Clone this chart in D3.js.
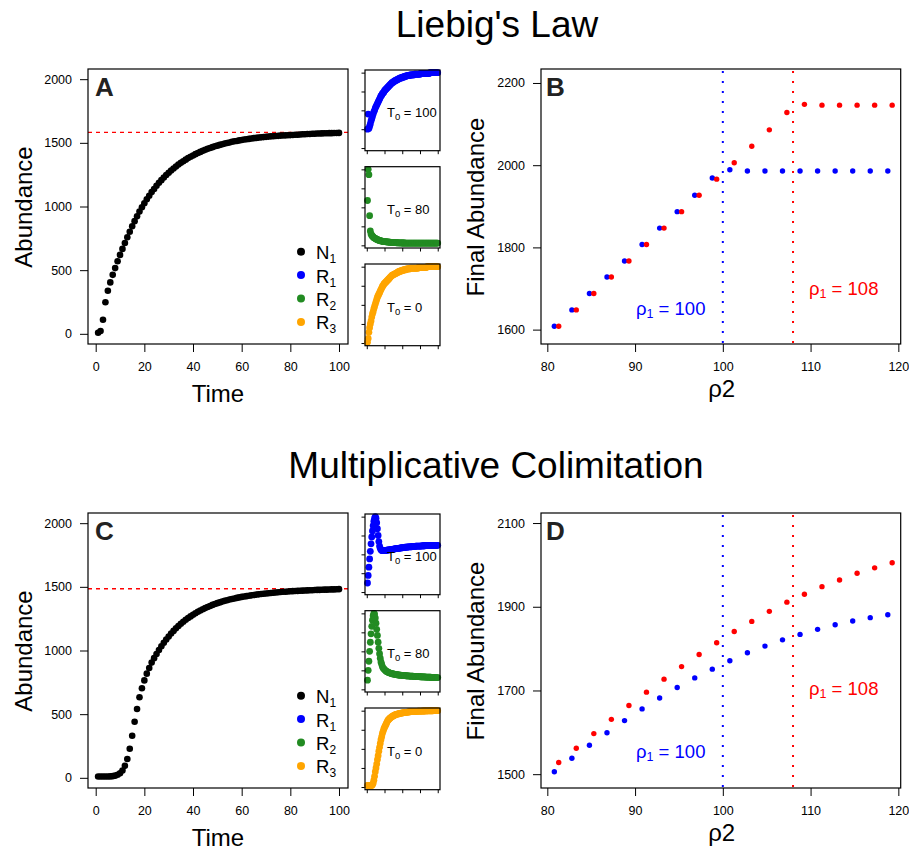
<!DOCTYPE html>
<html>
<head>
<meta charset="utf-8">
<script src="https://d3js.org/d3.v7.min.js"></script>
<style>
  body { margin: 0; background: #fff; }
  text { font-family: "Liberation Sans", Arial, Helvetica, sans-serif; white-space: pre; }
</style>
</head>
<body>
<script>
// ---- data ----
var time = d3.range(1, 101);

// panel A : N1 under Liebig's law
var liebigN = [
  8, 22, 110, 248, 338, 404, 463, 516, 570, 620,
  667, 713, 758, 802, 845, 885, 924, 960, 994, 1026,
  1057, 1085, 1113, 1138, 1163, 1186, 1207, 1228, 1247, 1265,
  1283, 1299, 1314, 1329, 1343, 1356, 1368, 1380, 1391, 1401,
  1411, 1420, 1429, 1437, 1445, 1453, 1460, 1466, 1473, 1478,
  1484, 1489, 1494, 1499, 1503, 1508, 1512, 1515, 1519, 1522,
  1526, 1528, 1531, 1534, 1537, 1539, 1541, 1543, 1545, 1547,
  1549, 1551, 1552, 1554, 1555, 1557, 1558, 1559, 1560, 1561,
  1562, 1563, 1564, 1565, 1567, 1568, 1569, 1570, 1571, 1572,
  1573, 1573, 1574, 1575, 1575, 1576, 1576, 1577, 1577, 1578
];
var liebigEquilibrium = 1582;

// panel C : N1 under multiplicative colimitation
var colimN = [
  10, 10, 10, 10, 10, 11, 13, 17, 24, 36,
  58, 94, 148, 228, 330, 440, 541, 633, 703, 765,
  818, 863, 905, 940, 973, 1004, 1033, 1061, 1086, 1110,
  1133, 1154, 1174, 1192, 1210, 1226, 1241, 1255, 1268, 1281,
  1293, 1304, 1314, 1324, 1333, 1342, 1350, 1358, 1365, 1372,
  1378, 1384, 1390, 1395, 1400, 1405, 1409, 1413, 1417, 1421,
  1424, 1427, 1430, 1433, 1436, 1439, 1441, 1444, 1446, 1448,
  1450, 1452, 1454, 1456, 1458, 1459, 1461, 1462, 1463, 1465,
  1466, 1467, 1468, 1469, 1470, 1471, 1472, 1473, 1473, 1475,
  1476, 1476, 1477, 1478, 1478, 1479, 1480, 1480, 1481, 1482
];
var colimEquilibrium = 1485;

// inset resources (relative scale, unlabeled axes)
var liebigR1 = [
  .25, .45, .26, .29, .32, .36, .39, .42, .45, .48,
  .50, .53, .55, .57, .59, .61, .63, .65, .67, .69,
  .70, .72, .73, .74, .76, .77, .78, .79, .80, .81,
  .82, .83, .84, .85, .86, .87, .87, .88, .89, .89,
  .90, .90, .91, .91, .92, .92, .93, .93, .93, .94,
  .94, .94, .95, .95, .95, .96, .96, .96, .96, .96,
  .97, .97, .97, .97, .97, .97, .98, .98, .98, .98,
  .98, .98, .98, .98, .98, .99, .99, .99, .99, .99,
  .99, .99, .99, .99, .99, .99, .99, .99, 1, 1,
  1, 1, 1, 1, 1, 1, 1, 1, 1, 1
];
var liebigR2 = [
  .59, 1.0, .93, .39, .19, .15, .13, .12, .11, .10,
  .095, .09, .085, .08, .075, .07, .067, .064, .061, .058,
  .056, .054, .052, .05, .049, .048, .047, .046, .045, .044,
  .043, .042, .041, .040, .039, .038, .037, .036, .036, .035,
  .035, .034, .034, .033, .033, .033, .032, .032, .032, .031,
  .031, .031, .031, .030, .030, .030, .030, .030, .030, .030,
  .030, .030, .030, .030, .030, .030, .030, .030, .030, .030,
  .030, .030, .030, .030, .030, .030, .030, .030, .030, .030,
  .030, .030, .030, .030, .030, .030, .030, .030, .030, .030,
  .030, .030, .030, .030, .030, .030, .030, .030, .030, .030
];
var liebigR3 = [
  .01, .06, .14, .20, .25, .29, .34, .38, .41, .45,
  .48, .51, .54, .57, .60, .62, .64, .66, .68, .70,
  .72, .74, .75, .77, .78, .79, .80, .81, .82, .83,
  .84, .85, .86, .87, .88, .89, .89, .90, .90, .91,
  .91, .92, .92, .93, .93, .94, .94, .94, .95, .95,
  .95, .96, .96, .96, .96, .97, .97, .97, .97, .97,
  .98, .98, .98, .98, .98, .98, .98, .98, .98, .98,
  .98, .98, .99, .99, .99, .99, .99, .99, .99, .99,
  .99, .99, .99, .99, 1, 1, 1, 1, 1, 1,
  1, 1, 1, 1, 1, 1, 1, 1, 1, 1
];
var colimR1 = [
  .12, .22, .33, .44, .54, .64, .73, .81, .88, .94,
  .98, 1.0, .98, .92, .84, .75, .67, .61, .58, .56,
  .55, .55, .55, .55, .55, .55, .55, .555, .555, .56,
  .56, .56, .56, .565, .565, .565, .57, .57, .57, .575,
  .575, .575, .58, .58, .58, .58, .585, .585, .585, .59,
  .59, .59, .59, .595, .595, .595, .595, .60, .60, .60,
  .60, .60, .60, .605, .605, .605, .605, .605, .61, .61,
  .61, .61, .61, .61, .61, .61, .612, .612, .612, .614,
  .614, .614, .615, .615, .615, .615, .616, .616, .616, .617,
  .617, .617, .617, .618, .618, .618, .618, .619, .619, .62
];
var colimR2 = [
  .12, .25, .37, .50, .62, .73, .83, .91, .97, 1.0,
  .99, .94, .87, .79, .71, .62, .54, .47, .41, .36,
  .33, .30, .28, .27, .26, .25, .24, .235, .23, .225,
  .22, .217, .214, .211, .208, .205, .203, .201, .199, .197,
  .195, .193, .192, .19, .189, .188, .187, .186, .185, .184,
  .183, .182, .181, .180, .179, .178, .178, .177, .176, .175,
  .175, .174, .173, .173, .172, .171, .171, .170, .170, .169,
  .168, .168, .167, .167, .166, .166, .165, .165, .164, .164,
  .163, .163, .162, .162, .161, .161, .160, .160, .159, .159,
  .158, .158, .157, .157, .156, .156, .156, .155, .155, .155
];
var colimR3 = [
  .02, .02, .02, .02, .02, .02, .02, .03, .05, .09,
  .14, .20, .25, .30, .36, .41, .47, .52, .57, .62,
  .66, .70, .73, .76, .78, .80, .82, .84, .86, .875,
  .885, .895, .905, .91, .92, .925, .93, .935, .94, .945,
  .95, .952, .955, .957, .96, .962, .965, .967, .968, .97,
  .972, .974, .975, .977, .978, .979, .980, .982, .983, .985,
  .986, .987, .988, .988, .989, .99, .99, .991, .991, .992,
  .992, .993, .993, .994, .994, .995, .995, .995, .996, .996,
  .996, .997, .997, .997, .998, .998, .998, .998, .999, .999,
  .999, .999, .999, 1, 1, 1, 1, 1, 1, 1
];
var insetLabels = ["100", "80", "0"];

// panels B and D : final abundance vs rho2
var rho2Blue = [80.8, 82.8, 84.8, 86.8, 88.8, 90.8, 92.8, 94.8, 96.8, 98.8,
  100.8, 102.8, 104.8, 106.8, 108.8, 110.8, 112.8, 114.8, 116.8, 118.8];
var rho2Red = [81.3, 83.3, 85.3, 87.3, 89.3, 91.3, 93.3, 95.3, 97.3, 99.3,
  101.3, 103.3, 105.3, 107.3, 109.3, 111.3, 113.3, 115.3, 117.3, 119.3];
var liebigFinalBlue = [1608, 1648, 1688, 1728, 1767, 1807, 1847, 1887, 1927, 1969,
  1989, 1986, 1986, 1986, 1986, 1986, 1986, 1986, 1986, 1986];
var liebigFinalRed = [1608, 1648, 1688, 1728, 1767, 1807, 1847, 1887, 1927, 1966,
  2006, 2046, 2086, 2128, 2148, 2146, 2146, 2146, 2146, 2146];
var colimFinalBlue = [1506, 1538, 1569, 1599, 1628, 1656, 1682, 1707, 1730, 1751,
  1771, 1790, 1806, 1821, 1834, 1846, 1857, 1866, 1874, 1881];
var colimFinalRed = [1528, 1562, 1597, 1631, 1664, 1696, 1727, 1757, 1786, 1814,
  1841, 1865, 1889, 1911, 1930, 1948, 1964, 1980, 1993, 2005];
var rho1Values = [100, 108];

var timeTicks = [0, 20, 40, 60, 80, 100];
var abundanceTicks = [0, 500, 1000, 1500, 2000];
var rho2Ticks = [80, 90, 100, 110, 120];
var liebigFinalTicks = [1600, 1800, 2000, 2200];
var colimFinalTicks = [1500, 1700, 1900, 2100];

var legendNames = [["N", "1"], ["R", "1"], ["R", "2"], ["R", "3"]];
var legendColors = ["black", "blue", "forestgreen", "orange"];

// ---- drawing ----
var svg = d3.select("body").append("svg")
  .attr("width", 909).attr("height", 850)
  .attr("fill", "#000");

function subText(t, base, sub, rest, subSize, shift) {
  t.append("tspan").text(base);
  t.append("tspan").attr("font-size", subSize).attr("dy", shift).text(sub);
  if (rest) t.append("tspan").attr("dy", -shift).text(rest);
}

function styleAxis(a, showLabels) {
  a.select(".domain").remove();
  a.selectAll(".tick line").attr("stroke", "#000").attr("stroke-width", 1);
  a.selectAll(".tick text").attr("font-size", "12.5px").attr("fill", "#000")
    .attr("font-family", "Liberation Sans, Arial, sans-serif");
  if (!showLabels) a.selectAll(".tick text").remove();
}

function box(g, x0, y0, x1, y1) {
  g.append("rect").attr("x", x0).attr("y", y0)
    .attr("width", x1 - x0).attr("height", y1 - y0)
    .attr("fill", "none").attr("stroke", "#000").attr("stroke-width", 1.2);
}

var plain = d3.format("d");

function timePanel(top, nData, equilibrium, letter, insets) {
  var g = svg.append("g");
  var x = d3.scaleLinear().domain([-3.16, 103.7]).range([88, 348]);
  var y = d3.scaleLinear().domain([-80, 2080]).range([top + 275, top]);

  g.append("g").attr("transform", "translate(88,0)")
    .call(d3.axisLeft(y).tickValues(abundanceTicks).tickFormat(plain).tickSize(8).tickPadding(8))
    .call(styleAxis, true);
  g.append("g").attr("transform", "translate(0," + (top + 275) + ")")
    .call(d3.axisBottom(x).tickValues(timeTicks).tickFormat(plain).tickSize(8).tickPadding(10))
    .call(styleAxis, true);

  g.append("line").attr("x1", 88).attr("x2", 348)
    .attr("y1", y(equilibrium)).attr("y2", y(equilibrium))
    .attr("stroke", "red").attr("stroke-width", 1.4).attr("stroke-dasharray", "4,4");

  g.selectAll(".pt").data(nData).enter().append("circle")
    .attr("cx", function(d, i) { return x(time[i]); })
    .attr("cy", function(d) { return y(d); })
    .attr("r", 3.3).attr("fill", "black");

  box(g, 88, top, 348, top + 275);

  g.append("text").attr("x", 95).attr("y", top + 27)
    .attr("font-size", "26px").attr("font-weight", "bold").attr("fill", "#222").text(letter);

  g.append("text").attr("transform", "translate(32," + (top + 138) + ") rotate(-90)")
    .attr("text-anchor", "middle").attr("font-size", "24px").text("Abundance");
  g.append("text").attr("x", 218).attr("y", top + 333)
    .attr("text-anchor", "middle").attr("font-size", "24px").text("Time");

  // legend
  legendNames.forEach(function(n, i) {
    var ly = top + 182.7 + i * 23.4;
    g.append("circle").attr("cx", 301).attr("cy", ly).attr("r", 4).attr("fill", legendColors[i]);
    var t = g.append("text").attr("x", 316).attr("y", ly + 7.5).attr("font-size", "18.5px");
    subText(t, n[0], n[1], null, "12px", 4);
  });

  // insets
  var insetBoxes = [[1, 81.7], [97.7, 179], [195, 276.7]];
  var insetColors = ["blue", "forestgreen", "orange"];
  insets.forEach(function(series, k) {
    var y0 = top + insetBoxes[k][0], y1 = top + insetBoxes[k][1];
    var xs = d3.scaleLinear().domain([-2.5, 103.2]).range([365, 440]);
    var ys = d3.scaleLinear().domain([-0.035, 1.035]).range([y1, y0]);
    var ig = g.append("g");
    ig.append("g").attr("transform", "translate(365,0)")
      .call(d3.axisLeft(ys).tickValues([0, .25, .5, .75, 1]).tickSize(3.5))
      .call(styleAxis, false);
    ig.append("g").attr("transform", "translate(0," + y1 + ")")
      .call(d3.axisBottom(xs).tickValues([0, 25, 50, 75, 100]).tickSize(3.5))
      .call(styleAxis, false);
    ig.selectAll(".pt").data(series).enter().append("circle")
      .attr("cx", function(d, i) { return xs(time[i]); })
      .attr("cy", function(d) { return ys(d); })
      .attr("r", 3.4).attr("fill", insetColors[k]);
    box(ig, 365, y0, 440, y1);
    var t = ig.append("text").attr("x", 387).attr("y", (y0 + y1) / 2 + 7).attr("font-size", "13px");
    subText(t, "T", "0", " = " + insetLabels[k], "9.5px", 3);
  });
}

function finalPanel(top, blueVals, redVals, yDomain, yTicks, letter) {
  var g = svg.append("g");
  var x = d3.scaleLinear().domain([79.28, 120.27]).range([541, 900.7]);
  var y = d3.scaleLinear().domain(yDomain).range([top + 275, top]);

  g.append("g").attr("transform", "translate(541,0)")
    .call(d3.axisLeft(y).tickValues(yTicks).tickFormat(plain).tickSize(8).tickPadding(8))
    .call(styleAxis, true);
  g.append("g").attr("transform", "translate(0," + (top + 275) + ")")
    .call(d3.axisBottom(x).tickValues(rho2Ticks).tickFormat(plain).tickSize(8).tickPadding(10))
    .call(styleAxis, true);

  var lineColors = ["blue", "red"];
  rho1Values.forEach(function(v, i) {
    g.append("line").attr("x1", x(v)).attr("x2", x(v))
      .attr("y1", top + 2).attr("y2", top + 275)
      .attr("stroke", lineColors[i]).attr("stroke-width", 2)
      .attr("stroke-dasharray", "2,8");
  });

  g.selectAll(".bpt").data(blueVals).enter().append("circle")
    .attr("cx", function(d, i) { return x(rho2Blue[i]); })
    .attr("cy", function(d) { return y(d); })
    .attr("r", 2.7).attr("fill", "blue");
  g.selectAll(".rpt").data(redVals).enter().append("circle")
    .attr("cx", function(d, i) { return x(rho2Red[i]); })
    .attr("cy", function(d) { return y(d); })
    .attr("r", 2.7).attr("fill", "red");

  box(g, 541, top, 900.7, top + 275);

  g.append("text").attr("x", 546).attr("y", top + 27)
    .attr("font-size", "26px").attr("font-weight", "bold").attr("fill", "#222").text(letter);

  g.append("text").attr("transform", "translate(484," + (top + 138) + ") rotate(-90)")
    .attr("text-anchor", "middle").attr("font-size", "24px").text("Final Abundance");
  var xt = g.append("text").attr("x", 721.7).attr("y", top + 328)
    .attr("text-anchor", "middle").attr("font-size", "24px");
  subText(xt, "\u03c1", "2", null, "24px", 0);

  return { g: g, x: x, y: y };
}

function rhoLabels(g, top, blueY, redY) {
  var tb = g.append("text").attr("x", 636).attr("y", top + blueY)
    .attr("font-size", "18.5px").attr("fill", "blue");
  subText(tb, "\u03c1", "1", " = 100", "12.5px", 3);
  var tr = g.append("text").attr("x", 809).attr("y", top + redY)
    .attr("font-size", "18.5px").attr("fill", "red");
  subText(tr, "\u03c1", "1", " = 108", "12.5px", 3);
}

// titles
svg.append("text").attr("x", 497).attr("y", 37).attr("text-anchor", "middle")
  .attr("font-size", "37px").text("Liebig's Law");
svg.append("text").attr("x", 496).attr("y", 478).attr("text-anchor", "middle")
  .attr("font-size", "37px").text("Multiplicative Colimitation");

timePanel(69, liebigN, liebigEquilibrium, "A", [liebigR1, liebigR2, liebigR3]);
timePanel(513, colimN, colimEquilibrium, "C", [colimR1, colimR2, colimR3]);

var pb = finalPanel(69, liebigFinalBlue, liebigFinalRed, [1565, 2234], liebigFinalTicks, "B");
rhoLabels(pb.g, 69, 246, 226);
var pd = finalPanel(513, colimFinalBlue, colimFinalRed, [1467, 2124], colimFinalTicks, "D");
rhoLabels(pd.g, 513, 245, 182);
</script>
</body>
</html>
